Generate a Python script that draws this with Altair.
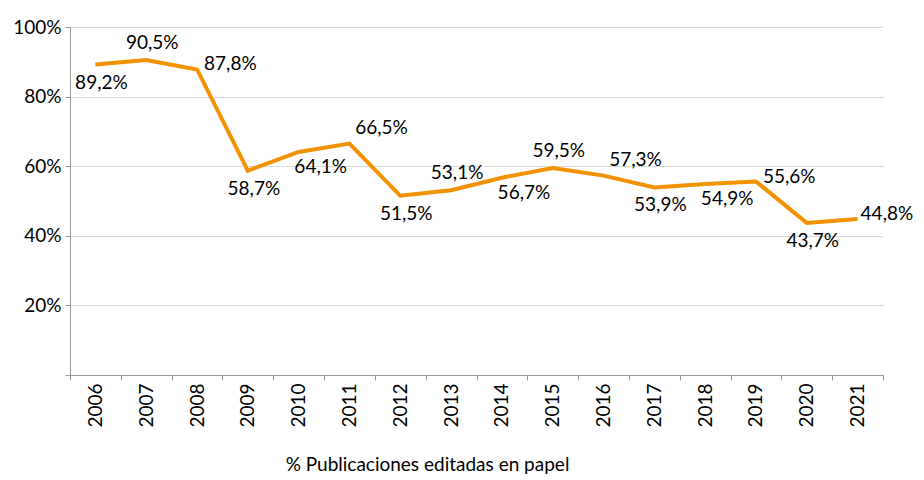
import altair as alt
import pandas as pd

years = [str(y) for y in range(2006, 2022)]
values = [89.2, 90.5, 87.8, 58.7, 64.1, 66.5, 51.5, 53.1, 56.7, 59.5,
          57.3, 53.9, 54.9, 55.6, 43.7, 44.8]
placement = ["below", "above", "right", "below", "below_right", "above_right",
             "below", "above", "below_right", "above", "above_right", "below",
             "below_right", "right", "below", "right_edge"]
labels = [f"{v:.1f}".replace(".", ",") + "%" for v in values]
series_name = "% Publicaciones editadas en papel"

df = pd.DataFrame({"year": years, "value": values, "label": labels, "place": placement})

FONT = "Lato"
ORANGE = "#F39200"

x = alt.X(
    "year:O",
    sort=years,
    scale=alt.Scale(type="band", paddingInner=0, paddingOuter=0),
    axis=alt.Axis(
        title=series_name,
        titleFont=FONT, titleFontSize=19, titleFontWeight="normal", titleColor="#000",
        titleX=357, titleY=89, titleAlign="center", titleBaseline="middle", titleAngle=0,
        labelAngle=-90, labelFont=FONT, labelFontSize=19, labelColor="#000",
        labelPadding=3, tickBand="extent", tickSize=5,
        domainColor="#999999", tickColor="#999999", grid=False,
    ),
)
y = alt.Y(
    "value:Q",
    scale=alt.Scale(domain=[0, 100], nice=False),
    axis=alt.Axis(
        title=None, values=[0, 20, 40, 60, 80, 100],
        labelExpr="datum.value == 0 ? '' : datum.value + '%'",
        labelFont=FONT, labelFontSize=19, labelColor="#000", labelPadding=4,
        tickSize=5, domainColor="#999999", tickColor="#999999",
        gridColor="#d9d9d9", gridWidth=1,
    ),
)

base = alt.Chart(df)
line = base.mark_line(color=ORANGE, strokeWidth=4, strokeJoin="miter").encode(x=x, y=y)

offsets = {
    "below": dict(dx=6, dy=18, align="center"),
    "above": dict(dx=6, dy=-17, align="center"),
    "right": dict(dx=7, dy=-5, align="left"),
    "right_edge": dict(dx=3, dy=-5, align="left"),
    "below_right": dict(dx=22, dy=15, align="center"),
    "above_right": dict(dx=32, dy=-16, align="center"),
}
texts = []
for p, o in offsets.items():
    texts.append(
        base.transform_filter(alt.datum.place == p)
        .mark_text(font=FONT, fontSize=19, color="#000", baseline="middle", **o)
        .encode(x=x, y=y, text="label:N")
    )

chart = alt.layer(line, *texts).properties(
    width=813, height=348,
    autosize=alt.AutoSizeParams(type="none"),
    padding={"left": 62, "top": 19, "right": 33, "bottom": 102},
).configure_view(stroke=None).configure_axisY(gridDash=[])

chart.save("out.html", embed_options={"renderer": "svg", "actions": False})
